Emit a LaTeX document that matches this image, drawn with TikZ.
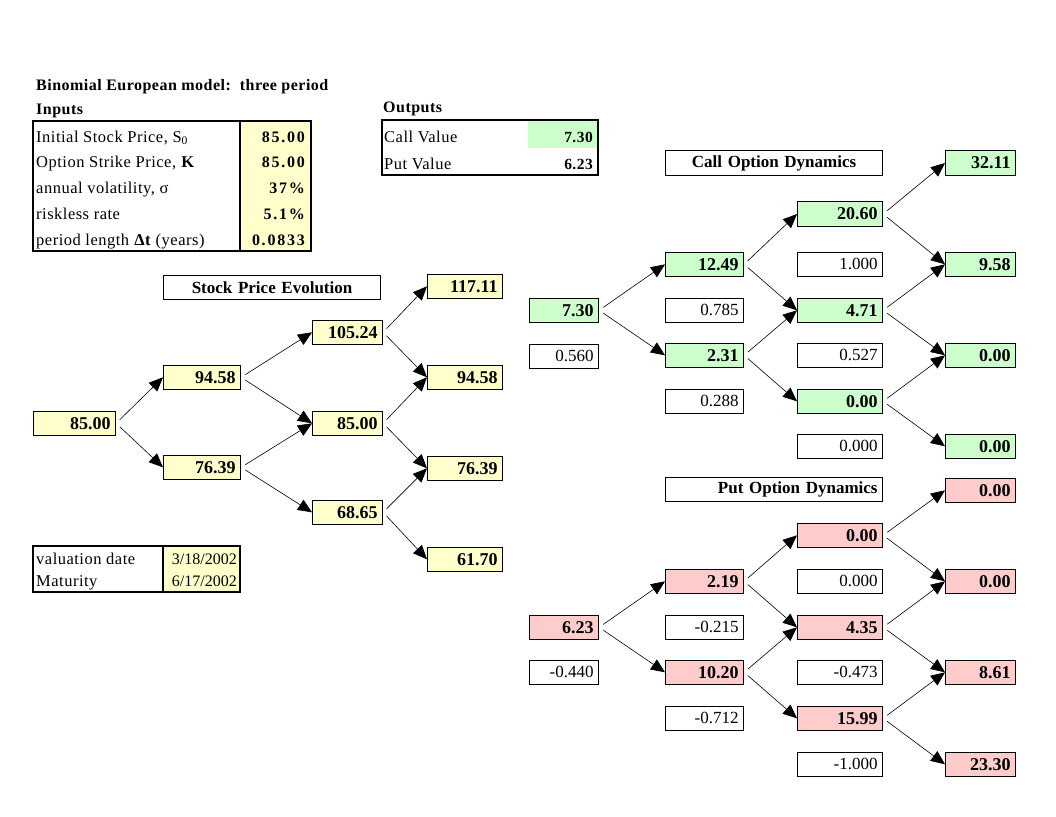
\documentclass[tikz,border=0pt]{standalone}
\usepackage{fontspec}
\setmainfont{Liberation Serif}
\newfontfamily\widefont[LetterSpace=3]{Liberation Serif}
\newfontfamily\widerfont[LetterSpace=11]{Liberation Serif}
\usetikzlibrary{positioning, arrows.meta}
\definecolor{yel}{HTML}{FFFFCC}
\definecolor{grn}{HTML}{CCFFCC}
\definecolor{pnk}{HTML}{FFCCCC}

\begin{document}
\begin{tikzpicture}[x=1pt, y=-1pt,
    cell/.style={draw, line width=1.1pt, anchor=north west, minimum height=23.5pt,
      inner ysep=0pt, inner xsep=5pt, text width=#1, align=right},
    num/.style={cell=#1, font=\fontsize{18}{20}\selectfont\bfseries},
    prob/.style={cell=#1, font=\fontsize{17}{20}\selectfont},
    head/.style={cell=#1, align=center, font=\fontsize{17}{20}\selectfont\bfseries},
    lbl/.style={anchor=base west, inner sep=0pt, font=\fontsize{16.5}{18}\selectfont\widefont},
    inval/.style={anchor=base east, inner sep=0pt, font=\fontsize{16}{18}\selectfont\widerfont\bfseries},
    link/.style={-{Triangle[length=14pt,width=12pt]}, line width=0.6pt, shorten <=5pt}]

   \useasboundingbox (0,0) rectangle (1056,816);

   % headings
   \node[anchor=base west, inner sep=0pt, font=\fontsize{16}{18}\selectfont\widefont\bfseries]
      (model) at (36,90) {Binomial European model:\ \ three period};
   \node[anchor=base west, inner sep=0pt, font=\fontsize{16}{18}\selectfont\widefont\bfseries]
      (inputs) at (36,114) {Inputs};
   \node[anchor=base west, inner sep=0pt, font=\fontsize{16}{18}\selectfont\widefont\bfseries]
      (outputs) at (383,112) {Outputs};

   % inputs table
   \fill[yel] (240,121) rectangle (311,251);
   \draw[line width=1.1pt] (33,121) rectangle (311,251) (240,121) -- (240,251);
   \node[lbl] (lS) at (36,142) {Initial Stock Price, S\textsubscript{0}};
   \node[lbl] (lK) at (36,167.5) {Option Strike Price, \textbf{K}};
   \node[lbl] (lsig) at (36,193) {annual volatility, σ};
   \node[lbl] (lr) at (36,219) {riskless rate};
   \node[lbl] (ldt) at (36,245) {period length \textbf{Δt} (years)};
   \node[inval] (vS) at (305,142) {85.00};
   \node[inval] (vK) at (305,167.5) {85.00};
   \node[inval] (vsig) at (305,193) {37\%};
   \node[inval] (vr) at (305,219) {5.1\%};
   \node[inval] (vdt) at (305,245) {0.0833};

   % outputs table
   \fill[grn] (528,121) rectangle (597,148);
   \draw[line width=1.1pt] (382,120) rectangle (598,175);
   \node[lbl] (lcall) at (384,142) {Call Value};
   \node[lbl] (lput) at (384,169) {Put Value};
   \node[inval, font=\fontsize{15.5}{18}\selectfont\widefont\bfseries] (vcall) at (593,142) {7.30};
   \node[inval, font=\fontsize{15.5}{18}\selectfont\widefont\bfseries] (vput) at (593,169) {6.23};

   % dates
   \fill[yel] (163,546) rectangle (240,592);
   \draw[line width=1.1pt] (33,546) rectangle (240,592) (163,546) -- (163,592);
   \node[lbl] (lval) at (36,564) {valuation date};
   \node[lbl] (lmat) at (36,586) {Maturity};
   \node[anchor=base east, inner sep=0pt, font=\fontsize{16}{18}\selectfont] (dval) at (237,564) {3/18/2002};
   \node[anchor=base east, inner sep=0pt, font=\fontsize{16}{18}\selectfont] (dmat) at (237,586) {6/17/2002};

   % stock tree
   \node[head=207] (stitle) at (163,275) {Stock Price Evolution};
   \node[num=72, fill=yel] (s0) at (33,411) {85.00};
   \node[num=67, fill=yel] (su) at (163,365) {94.58};
   \node[num=67, fill=yel] (sd) at (163,455) {76.39};
   \node[num=60, fill=yel] (suu) at (312,320) {105.24};
   \node[num=60, fill=yel] (sud) at (312,411) {85.00};
   \node[num=60, fill=yel] (sdd) at (312,500) {68.65};
   \node[num=65, fill=yel] (suuu) at (427,274) {117.11};
   \node[num=65, fill=yel] (suud) at (427,365) {94.58};
   \node[num=65, fill=yel] (sudd) at (427,456) {76.39};
   \node[num=65, fill=yel] (sddd) at (427,547) {61.70};

   \path[link]
    (s0.east) edge (su.west)
              edge (sd.west)
    (su.east) edge (suu.west)
              edge (sud.west)
    (sd.east) edge (sud.west)
              edge (sdd.west)
    (suu.east) edge (suuu.west)
               edge (suud.west)
    (sud.east) edge (suud.west)
               edge (sudd.west)
    (sdd.east) edge (sudd.west)
               edge (sddd.west);

   % call tree
   \node[head=207, minimum height=25pt] (ctitle) at (665,150) {Call Option Dynamics};
   \node[num=59, fill=grn] (c0) at (529,298) {7.30};
   \node[prob=59] (dc0) at (529,344) {0.560};
   \node[num=68, fill=grn] (cu) at (665,252) {12.49};
   \node[prob=68] (dcu) at (665,298) {0.785};
   \node[num=68, fill=grn] (cd) at (665,343) {2.31};
   \node[prob=68] (dcd) at (665,389) {0.288};
   \node[num=75, fill=grn, minimum height=25pt] (cuu) at (797,201) {20.60};
   \node[prob=75] (dcuu) at (797,252) {1.000};
   \node[num=75, fill=grn] (cud) at (797,298) {4.71};
   \node[prob=75] (dcud) at (797,343) {0.527};
   \node[num=75, fill=grn] (cdd) at (797,389) {0.00};
   \node[prob=75] (dcdd) at (797,434) {0.000};
   \node[num=60, fill=grn, minimum height=25pt] (cuuu) at (945,150) {32.11};
   \node[num=60, fill=grn] (cuud) at (945,252) {9.58};
   \node[num=60, fill=grn] (cudd) at (945,343) {0.00};
   \node[num=60, fill=grn] (cddd) at (945,434) {0.00};

   \path[link]
    (c0.east) edge (cu.west)
              edge (cd.west)
    (cu.east) edge (cuu.west)
              edge (cud.west)
    (cd.east) edge (cud.west)
              edge (cdd.west)
    (cuu.east) edge (cuuu.west)
               edge (cuud.west)
    (cud.east) edge (cuud.west)
               edge (cudd.west)
    (cdd.east) edge (cudd.west)
               edge (cddd.west);

   % put tree
   \node[head=207, align=right] (ptitle) at (665,477) {Put Option Dynamics};
   \node[num=60, fill=pnk] (puuu) at (945,478) {0.00};
   \node[num=75, fill=pnk] (puu) at (797,523) {0.00};
   \node[prob=75] (dpuu) at (797,569) {0.000};
   \node[num=68, fill=pnk] (pu) at (665,569) {2.19};
   \node[num=60, fill=pnk] (puud) at (945,569) {0.00};
   \node[num=59, fill=pnk] (p0) at (529,615) {6.23};
   \node[prob=68] (dpu) at (665,615) {-0.215};
   \node[num=75, fill=pnk] (pud) at (797,615) {4.35};
   \node[prob=59] (dp0) at (529,660) {-0.440};
   \node[num=68, fill=pnk] (pd) at (665,660) {10.20};
   \node[prob=75] (dpud) at (797,660) {-0.473};
   \node[num=60, fill=pnk] (pudd) at (945,660) {8.61};
   \node[prob=68] (dpd) at (665,706) {-0.712};
   \node[num=75, fill=pnk] (pdd) at (797,706) {15.99};
   \node[prob=75] (dpdd) at (797,752) {-1.000};
   \node[num=60, fill=pnk] (pddd) at (945,752) {23.30};

   \path[link]
    (p0.east) edge (pu.west)
              edge (pd.west)
    (pu.east) edge (puu.west)
              edge (pud.west)
    (pd.east) edge (pud.west)
              edge (pdd.west)
    (puu.east) edge (puuu.west)
               edge (puud.west)
    (pud.east) edge (puud.west)
               edge (pudd.west)
    (pdd.east) edge (pudd.west)
               edge (pddd.west);
\end{tikzpicture}
\end{document}
